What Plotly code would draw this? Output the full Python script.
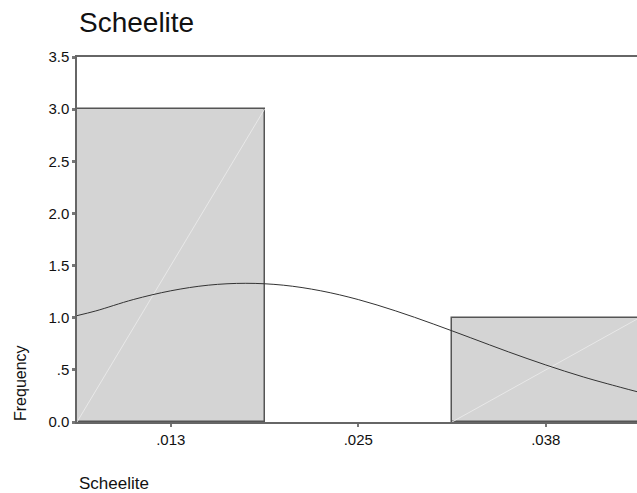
import plotly.graph_objects as go

# Data
bin_centers = [0.0125, 0.025, 0.0375]
bin_width = 0.0125
counts = [3, 0, 1]
tick_vals = [0.0125, 0.025, 0.0375]
tick_text = [".013", ".025", ".038"]
y_tick_vals = [0.0, 0.5, 1.0, 1.5, 2.0, 2.5, 3.0, 3.5]
y_tick_text = ["0.0", ".5", "1.0", "1.5", "2.0", "2.5", "3.0", "3.5"]
curve_x = [0.00625, 0.0075, 0.01, 0.0125, 0.015, 0.0175, 0.02, 0.0225, 0.025,
           0.0275, 0.03, 0.0325, 0.035, 0.0375, 0.04, 0.0425, 0.0436]
curve_y = [1.02, 1.065, 1.174, 1.258, 1.312, 1.33, 1.312, 1.258, 1.174,
           1.065, 0.94, 0.807, 0.673, 0.547, 0.432, 0.332, 0.29]

font = "Liberation Sans, Arial, sans-serif"
W, H = 637, 493
ML, MT, MB, MR = 77, 57, 71, 0
PW, PH = W - ML - MR, H - MT - MB

def px(x):
    return (x - ML) / PW

def py(y):
    return (H - MB - y) / PH

fig = go.Figure()
fig.add_trace(go.Bar(x=bin_centers, y=counts, width=[bin_width] * len(counts),
                     marker=dict(color="#d4d4d4",
                                 line=dict(color="#555555",
                                           width=[1.5 if n > 0 else 0 for n in counts])),
                     showlegend=False, hoverinfo="skip"))
# faint diagonal artifacts inside bars
for c, n in zip(bin_centers, counts):
    if n > 0:
        fig.add_trace(go.Scatter(x=[c - bin_width / 2, c + bin_width / 2], y=[0, n],
                                 mode="lines", line=dict(color="#e8e8e8", width=1),
                                 showlegend=False, hoverinfo="skip"))
fig.add_trace(go.Scatter(x=curve_x, y=curve_y, mode="lines", line=dict(color="#333333", width=1),
                         line_shape="spline", showlegend=False, hoverinfo="skip"))

x_lo = bin_centers[0] - bin_width / 2
fig.update_layout(
    width=W, height=H,
    margin=dict(l=ML, r=MR, t=MT, b=MB, pad=0),
    paper_bgcolor="white", plot_bgcolor="white",
    font=dict(family=font, color="#111111"),
    bargap=0,
    xaxis=dict(range=[x_lo, 0.04358], tickvals=tick_vals, ticktext=tick_text,
               showgrid=False, zeroline=False, showline=True, linecolor="#666666", linewidth=1.5,
               mirror=True, ticks="outside", ticklen=3, tickwidth=2, tickcolor="#777777",
               tickfont=dict(size=15, family=font, color="#111111")),
    yaxis=dict(range=[0, 3.5], tickvals=y_tick_vals, ticktext=y_tick_text,
               showgrid=False, zeroline=False, showline=True, linecolor="#666666", linewidth=1.5,
               ticks="outside", ticklen=3, tickwidth=3, tickcolor="#777777",
               tickfont=dict(size=15, family=font, color="#111111")),
    annotations=[
        dict(text="Scheelite", x=px(77), y=py(22), xref="paper", yref="paper", showarrow=False,
             font=dict(size=28, family=font, color="#111111"), xanchor="left", yanchor="middle"),
        dict(text="Scheelite", x=px(77), y=py(483), xref="paper", yref="paper", showarrow=False,
             font=dict(size=17, family=font, color="#111111"), xanchor="left", yanchor="middle"),
        dict(text="Frequency", x=px(20), y=py(383), xref="paper", yref="paper", showarrow=False,
             textangle=-90, font=dict(size=16, family=font, color="#111111"),
             xanchor="center", yanchor="middle"),
    ],
)
fig.write_html("out.html", config={"displayModeBar": False},
               post_script="document.body.style.margin='0';document.body.style.overflow='hidden';")
